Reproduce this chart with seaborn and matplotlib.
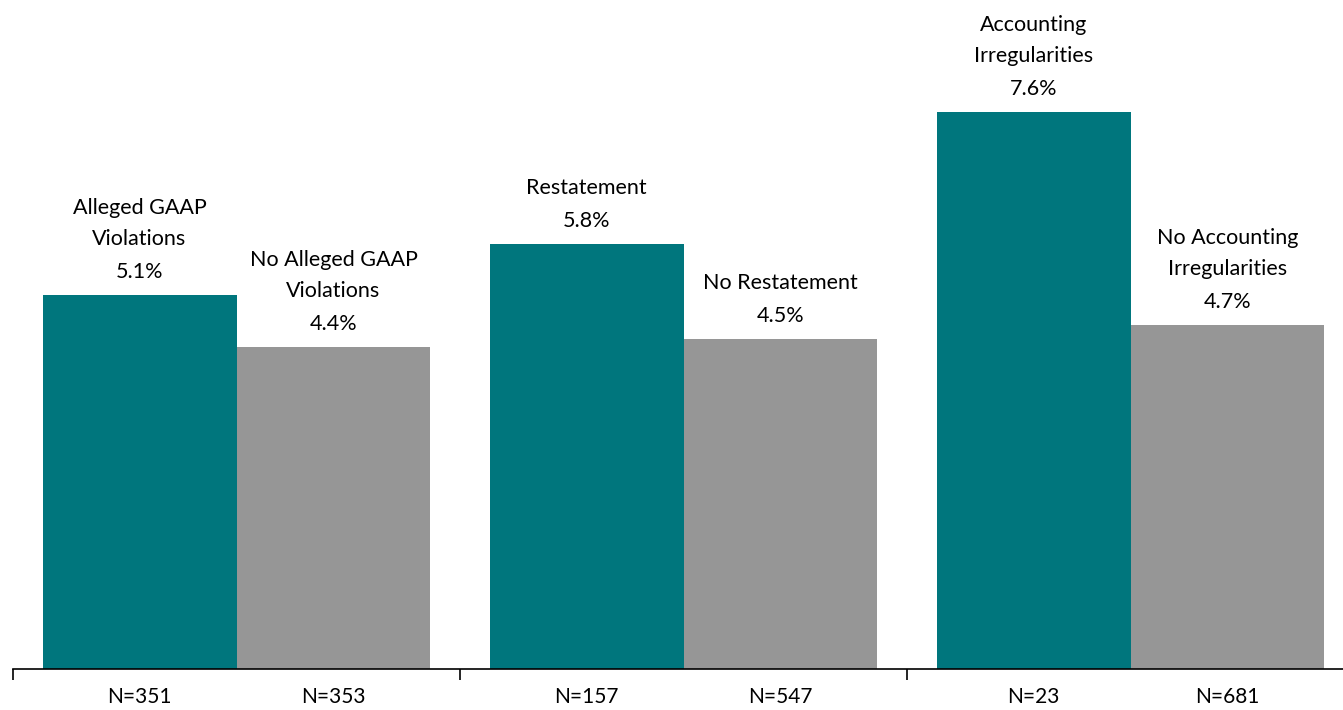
import matplotlib
matplotlib.use("Agg")
import matplotlib.pyplot as plt
import seaborn as sns
import pandas as pd

groups = ["GAAP", "Restatement", "Irregularities"]
kinds = ["With", "Without"]
labels_with = ["Alleged GAAP\nViolations", "Restatement", "Accounting\nIrregularities"]
labels_without = ["No Alleged GAAP\nViolations", "No Restatement", "No Accounting\nIrregularities"]
values_with = [5.1, 5.8, 7.6]
values_without = [4.4, 4.5, 4.7]
n_with = ["N=351", "N=157", "N=23"]
n_without = ["N=353", "N=547", "N=681"]

colors = {"With": "#00767D", "Without": "#969696"}

rows = []
for g, vw, vo in zip(groups, values_with, values_without):
    rows.append({"group": g, "kind": "With", "value": vw})
    rows.append({"group": g, "kind": "Without", "value": vo})
df = pd.DataFrame(rows)

sns.set_theme(style="white")
plt.rcParams["font.family"] = ["Lato", "DejaVu Sans"]

W, H = 1343, 710
fig = plt.figure(figsize=(W / 100, H / 100), dpi=100)
ax = fig.add_axes([13 / W, (H - 669) / H, 1341 / W, 669 / H])

BW = 0.868
sns.barplot(data=df, x="group", y="value", hue="kind", order=groups,
            hue_order=kinds, palette=colors, width=BW, gap=0, dodge=True,
            saturation=1, legend=False, ax=ax, linewidth=0)

ax.set_xlim(-0.5, 2.5)
ax.set_ylim(0, 9.13)
ax.set_xlabel("")
ax.set_ylabel("")
ax.set_yticks([])
for s in ["top", "left", "right"]:
    ax.spines[s].set_visible(False)
ax.spines["bottom"].set_color("black")
ax.spines["bottom"].set_linewidth(1.2)

# group boundary ticks
ax.set_xticks([-0.5, 0.5, 1.5, 2.5])
ax.set_xticklabels([])
ax.tick_params(axis="x", which="major", direction="out", length=8, width=1.2,
               color="black", bottom=True)
# N labels as minor ticks
off = BW / 4
minor_pos = []
minor_lab = []
for i in range(len(groups)):
    minor_pos += [i - off, i + off]
    minor_lab += [n_with[i], n_without[i]]
ax.set_xticks(minor_pos, minor=True)
ax.set_xticklabels(minor_lab, minor=True)
ax.tick_params(axis="x", which="minor", length=0, pad=13, labelsize=15,
               labelcolor="black")

fs = 15.5
for i in range(len(groups)):
    for x, v, lab in [(i - off, values_with[i], labels_with[i]),
                      (i + off, values_without[i], labels_without[i])]:
        ax.annotate(f"{v:.1f}%", (x, v), xytext=(0, 23), textcoords="offset pixels",
                    ha="center", va="center", fontsize=fs, color="black")
        lines = lab.split("\n")
        for k, line in enumerate(reversed(lines)):
            ax.annotate(line, (x, v), xytext=(0, 56 + 31 * k),
                        textcoords="offset pixels", ha="center", va="center",
                        fontsize=fs, color="black")

fig.savefig("out.png", dpi=100)
